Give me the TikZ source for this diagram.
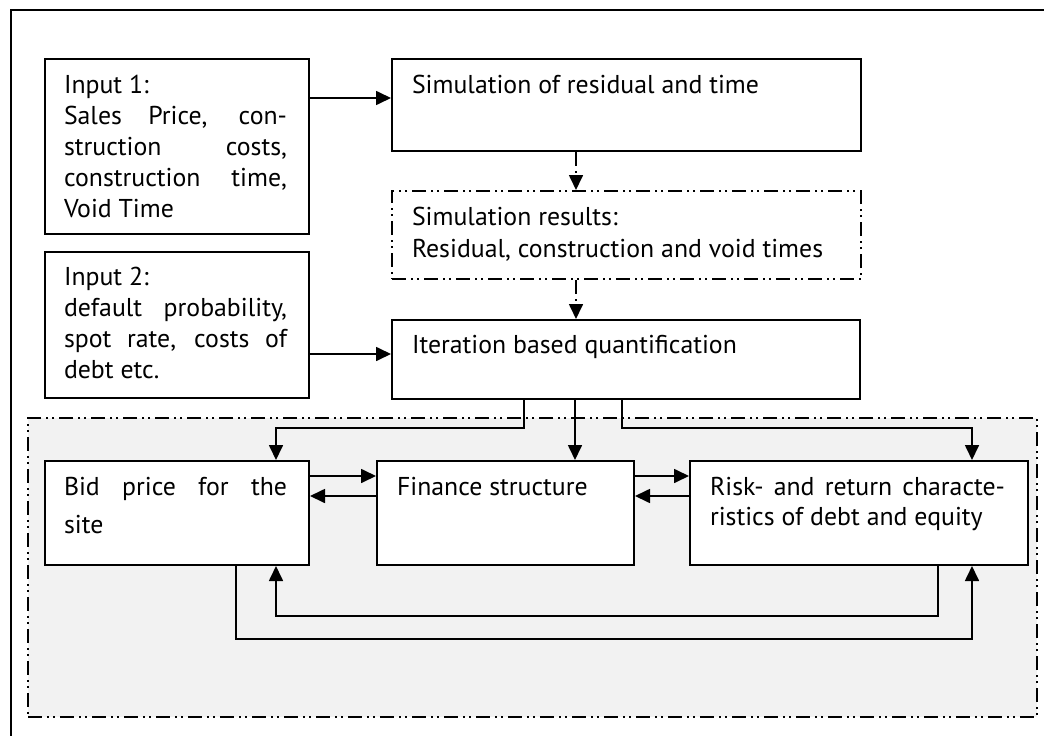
\documentclass[tikz,border=0pt]{standalone}
\usepackage{fontspec}
\setmainfont{PT Sans}
\usetikzlibrary{arrows.meta}
\tikzset{
  box/.style={draw, line width=2pt, fill=white, anchor=north west, inner sep=0pt},
  dbox/.style={box, dd},
  txt/.style={anchor=text, inner sep=0pt, font=\fontsize{25.8}{31}\selectfont},
  conn/.style={line width=1.7pt, -{Triangle[length=15pt,width=14pt]}},
  dconn/.style={conn, dd},
  dd/.style={dash pattern=on 14pt off 5pt on 2pt off 4pt on 2pt off 5pt},
}
\newcommand{\jline}[1]{\makebox[\linewidth][s]{#1}}
\begin{document}
\begin{tikzpicture}[x=1pt,y=-1pt]
\useasboundingbox (0,0) rectangle (1044,736);
% outer frame
\draw[line width=2pt] (11,740) -- (11,10) -- (1050,10);
% grey region
\node[draw, line width=2pt, dd, fill={rgb,255:red,242;green,242;blue,242}, anchor=north west, inner sep=0pt,
      minimum width=1009pt, minimum height=299pt] (region) at (27,417) {};
% boxes
\node[box, minimum width=264pt, minimum height=175pt] (in1) at (44,58) {};
\node[box, minimum width=264pt, minimum height=146pt] (in2) at (44,251) {};
\node[box, minimum width=469pt, minimum height=92pt] (sim) at (391,58) {};
\node[dbox, minimum width=469pt, minimum height=88pt] (res) at (391,190) {};
\node[box, minimum width=468pt, minimum height=79pt] (iter) at (391,319) {};
\node[box, minimum width=264pt, minimum height=104pt] (bid) at (44,460) {};
\node[box, minimum width=257pt, minimum height=104pt] (fin) at (376,460) {};
\node[box, minimum width=338pt, minimum height=104pt] (risk) at (689,460) {};
% texts
\node[txt] (in1t) at (64,93) {\parbox[t]{223pt}{Input 1:\\
  \jline{Sales Price, con-}\\
  \jline{struction costs,}\\
  \jline{construction time,}\\
  Void Time}};
\node[txt] (simt) at (412,93) {Simulation of residual and time};
\node[txt] (rest) at (412,225) {\parbox[t]{440pt}{\fontsize{25.8}{32}\selectfont Simulation results:\\
  Residual, construction and void times}};
\node[txt] (in2t) at (64,285) {\parbox[t]{223pt}{Input 2:\\
  \jline{default probability,}\\
  \jline{spot rate, costs of}\\
  debt etc.}};
\node[txt] (itert) at (412,353) {Iteration based quantification};
\node[txt] (bidt) at (64,495) {\parbox[t]{223pt}{\fontsize{25.8}{38}\selectfont
  \jline{Bid price for the}\\
  site}};
\node[txt] (fint) at (397,495) {Finance structure};
\node[txt] (riskt) at (710,495) {\parbox[t]{295pt}{\fontsize{25.8}{30}\selectfont
  \jline{Risk- and return characte-}\\
  ristics of debt and equity}};
% connectors
\draw[conn] ([yshift=-40pt]in1.north east) -- ([yshift=-40pt]sim.north west);
\draw[conn] ([yshift=-103pt]in2.north east) -- ([yshift=-35pt]iter.north west);
\draw[dconn] ([xshift=185pt]sim.south west) -- ([xshift=185pt]res.north west);
\draw[dconn] ([xshift=185pt]res.south west) -- ([xshift=185pt]iter.north west);
\draw[conn] ([xshift=133pt]iter.south west) -- ++(0,28) -| ([xshift=232pt]bid.north west);
\draw[conn] ([xshift=184pt]iter.south west) -- ([xshift=199pt]fin.north west);
\draw[conn] ([xshift=231pt]iter.south west) -- ++(0,28) -| ([xshift=283pt]risk.north west);
\draw[conn] ([yshift=-16pt]bid.north east) -- ([yshift=-16pt]fin.north west);
\draw[conn] ([yshift=-36pt]fin.north west) -- ([yshift=-36pt]bid.north east);
\draw[conn] ([yshift=-16pt]fin.north east) -- ([yshift=-16pt]risk.north west);
\draw[conn] ([yshift=-36pt]risk.north west) -- ([yshift=-36pt]fin.north east);
\draw[conn] ([xshift=249pt]risk.south west) -- ++(0,50) -| ([xshift=232pt]bid.south west);
\draw[conn] ([xshift=192pt]bid.south west) -- ++(0,73) -| ([xshift=283pt]risk.south west);
\end{tikzpicture}
\end{document}
